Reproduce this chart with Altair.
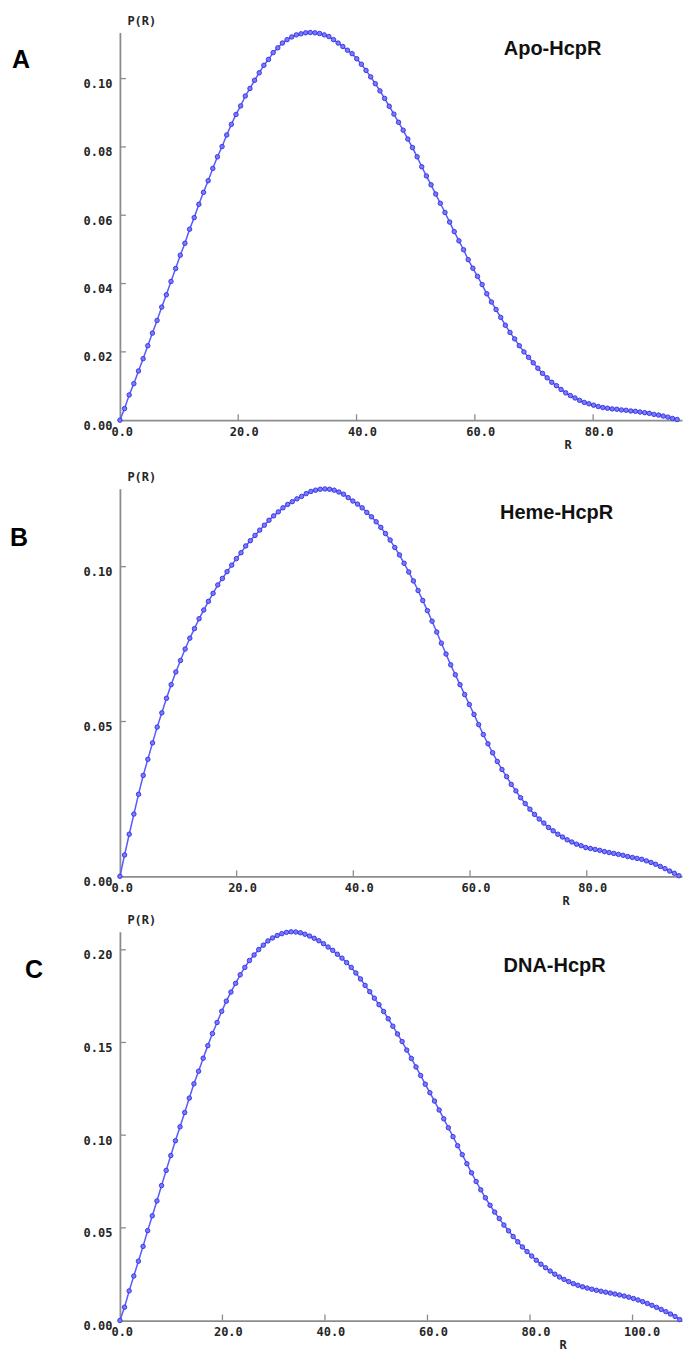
import altair as alt
import pandas as pd
import numpy as np

# ---------------- data ----------------
# Panel A: Apo-HcpR, uniform R grid 0 .. 94.2
R_A_END = 94.2
P_A = [0, 0.0034, 0.0074, 0.0107, 0.0144, 0.018, 0.0218, 0.0255, 0.0292, 0.0331,
       0.0367, 0.0406, 0.0444, 0.0483, 0.0518, 0.0559, 0.0593, 0.0632, 0.0667, 0.0701,
       0.0737, 0.0771, 0.0801, 0.0835, 0.0866, 0.0895, 0.092, 0.0949, 0.0971, 0.0995,
       0.1017, 0.1039, 0.1056, 0.1076, 0.109, 0.1104, 0.1114, 0.1122, 0.1128, 0.1131,
       0.1134, 0.1135, 0.1134, 0.1132, 0.1128, 0.1123, 0.1114, 0.1104, 0.1094, 0.1083,
       0.1073, 0.1058, 0.1042, 0.1024, 0.1005, 0.0985, 0.0964, 0.0942, 0.0919, 0.0896,
       0.0872, 0.0849, 0.0823, 0.0798, 0.0771, 0.0742, 0.0715, 0.0689, 0.0662, 0.0635,
       0.0608, 0.058, 0.0552, 0.0525, 0.0499, 0.047, 0.0445, 0.0421, 0.0397, 0.037,
       0.0346, 0.0324, 0.0301, 0.0278, 0.0257, 0.0238, 0.0218, 0.02, 0.0184, 0.0168,
       0.0152, 0.0137, 0.0124, 0.0111, 0.0101, 0.009, 0.008, 0.0072, 0.0065, 0.0058,
       0.0052, 0.0048, 0.0044, 0.004, 0.0037, 0.0035, 0.0033, 0.0032, 0.003, 0.0029,
       0.0027, 0.0026, 0.0024, 0.0022, 0.002, 0.0017, 0.0015, 0.0012, 0.0009, 0.0005,
       0.0002]

# Panel B: Heme-HcpR, uniform R grid 0 .. 95.8
R_B_END = 95.8
P_B = [0, 0.0069, 0.0136, 0.0201, 0.0265, 0.0326, 0.0378, 0.0431, 0.0482, 0.0528,
       0.0575, 0.0619, 0.066, 0.0697, 0.0734, 0.0769, 0.08, 0.0832, 0.086, 0.0888,
       0.0914, 0.0941, 0.0962, 0.0984, 0.1005, 0.1026, 0.1045, 0.1067, 0.1084, 0.1101,
       0.1118, 0.1134, 0.115, 0.1164, 0.1177, 0.119, 0.1201, 0.121, 0.1219, 0.1227,
       0.1236, 0.1243, 0.1247, 0.125, 0.1251, 0.125, 0.1247, 0.1241, 0.1234, 0.1223,
       0.1212, 0.1202, 0.119, 0.1175, 0.1161, 0.1145, 0.1127, 0.1107, 0.1086, 0.1062,
       0.1038, 0.1011, 0.0983, 0.0954, 0.0923, 0.0891, 0.0858, 0.0824, 0.0789, 0.0753,
       0.0718, 0.0683, 0.0651, 0.0619, 0.0587, 0.0555, 0.0523, 0.049, 0.0458, 0.0428,
       0.0399, 0.0371, 0.0345, 0.0322, 0.0297, 0.0276, 0.0254, 0.0235, 0.0217, 0.02,
       0.0185, 0.0172, 0.0158, 0.0147, 0.0136, 0.0127, 0.0118, 0.0111, 0.0104, 0.0099,
       0.0093, 0.009, 0.0087, 0.0084, 0.008, 0.0077, 0.0074, 0.0071, 0.0068, 0.0064,
       0.0061, 0.0058, 0.0055, 0.005, 0.0045, 0.0039, 0.0032, 0.0025, 0.0017, 0.001,
       0.0002]

# Panel C: DNA-HcpR, uniform R grid 0 .. 109.2
R_C_END = 109.2
P_C = [0, 0.0072, 0.016, 0.024, 0.032, 0.040, 0.0485, 0.0565, 0.0645, 0.0728,
       0.081, 0.089, 0.097, 0.1045, 0.1122, 0.12, 0.1277, 0.1345, 0.1415, 0.1483,
       0.1548, 0.1608, 0.1668, 0.1723, 0.1772, 0.1819, 0.1865, 0.1905, 0.1942, 0.1972,
       0.2001, 0.2025, 0.2048, 0.2064, 0.2077, 0.2087, 0.2094, 0.2097, 0.2096, 0.2092,
       0.2084, 0.2074, 0.2062, 0.2049, 0.2033, 0.2015, 0.1997, 0.1976, 0.1955, 0.1931,
       0.1905, 0.1875, 0.1843, 0.1808, 0.1774, 0.1739, 0.1704, 0.1667, 0.1628, 0.1588,
       0.1546, 0.1505, 0.1459, 0.1414, 0.1368, 0.1322, 0.1275, 0.1229, 0.1184, 0.1136,
       0.1088, 0.1040, 0.0992, 0.0943, 0.0895, 0.0846, 0.0797, 0.0750, 0.0705, 0.0662,
       0.0622, 0.0585, 0.055, 0.0515, 0.0484, 0.0453, 0.0425, 0.0397, 0.0372, 0.0348,
       0.0325, 0.0304, 0.0285, 0.0267, 0.025, 0.0235, 0.0222, 0.021, 0.0199, 0.019,
       0.0182, 0.0175, 0.0169, 0.0163, 0.0158, 0.0153, 0.0148, 0.0143, 0.0138, 0.0132,
       0.0126, 0.0119, 0.0111, 0.0102, 0.0092, 0.0082, 0.0071, 0.006, 0.0048, 0.0035,
       0.0022, 0.0005]

NAMES = ["Apo-HcpR", "Heme-HcpR", "DNA-HcpR"]
LETTERS = ["A", "B", "C"]
X_TICKS_AB = [20, 40, 60, 80]
X_TICKS_C = [20, 40, 60, 80, 100]
Y_TICKS_A = [0.02, 0.04, 0.06, 0.08, 0.10]
Y_TICKS_B = [0.05, 0.10]
Y_TICKS_C = [0.05, 0.10, 0.15, 0.20]

# ---------------- styling ----------------
MONO = "DejaVu Sans Mono"
SANS = "Liberation Sans"
AXIS_GRAY = "#8c8c8c"
LABEL_COL = "#262626"
LINE_COL = "#5a5aff"
W = 562.5


def panel(R, P, xmax, ymax, xticks, yticks, name, letter, h,
          letter_xy, name_xy, rtitle_x, anchor=False):
    df = pd.DataFrame({"R": R, "P": P})
    xs = alt.Scale(domain=[0, xmax], nice=False, zero=False)
    ys = alt.Scale(domain=[0, ymax], nice=False, zero=False)
    xaxis = alt.Axis(values=[0] + xticks, format=".1f", title="R", grid=False,
                     tickSize=0, domainColor=AXIS_GRAY, domainWidth=1.8,
                     labelFont=MONO, labelFontSize=12, labelFontWeight="bold",
                     labelColor=LABEL_COL, labelAlign="left", labelOffset=-9,
                     labelPadding=6, labelBaseline="top", labelFlush=False,
                     labelOverlap=False,
                     titleFont=MONO, titleFontSize=12, titleFontWeight="bold",
                     titleColor=LABEL_COL, titleAngle=0, titleAlign="center",
                     titleBaseline="middle", titleX=rtitle_x, titleY=24)
    yaxis = alt.Axis(values=[0] + yticks, format=".2f", title="P(R)", grid=False,
                     tickSize=0, domainColor=AXIS_GRAY, domainWidth=1.8,
                     labelFont=MONO, labelFontSize=12, labelFontWeight="bold",
                     labelColor=LABEL_COL, labelPadding=8, labelOffset=5,
                     labelFlush=False, labelOverlap=False,
                     titleFont=MONO, titleFontSize=12, titleFontWeight="bold",
                     titleColor=LABEL_COL, titleAngle=0, titleAlign="left",
                     titleBaseline="middle", titleX=7, titleY=-12)
    X = alt.X("R:Q", scale=xs, axis=xaxis, title="R")
    Y = alt.Y("P:Q", scale=ys, axis=yaxis, title="P(R)")
    base = alt.Chart(df)
    line = base.mark_line(color=LINE_COL, strokeWidth=1.5).encode(x=X, y=Y)
    pts = base.mark_point(shape="circle", filled=True, size=20, fill="#7a7aff",
                          stroke="#3030e0", strokeWidth=0.9, opacity=1).encode(
        x=X, y=Y)
    ytk = alt.Chart(pd.DataFrame({"P": yticks})).mark_rule(
        color=AXIS_GRAY, strokeWidth=1.3).encode(
        y=Y, x=alt.value(0), x2=alt.value(6))
    xtk = alt.Chart(pd.DataFrame({"R": xticks})).mark_rule(
        color=AXIS_GRAY, strokeWidth=1.3).encode(
        x=X, y=alt.value(h), y2=alt.value(h - 6))
    one = pd.DataFrame({"a": [0]})
    let = alt.Chart(one).mark_text(text=letter, font=SANS, fontWeight="bold",
                                   fontSize=25, color="black", align="left",
                                   baseline="alphabetic").encode(
        x=alt.value(letter_xy[0]), y=alt.value(letter_xy[1]))
    nm = alt.Chart(one).mark_text(text=name, font=SANS, fontWeight="bold",
                                  fontSize=20, color="#111", align="center",
                                  baseline="alphabetic").encode(
        x=alt.value(name_xy[0]), y=alt.value(name_xy[1]))
    layers = [line, pts, ytk, xtk, let, nm]
    if anchor:
        anc = alt.Chart(one).mark_rule(opacity=0, strokeWidth=0).encode(
            x=alt.value(-120), y=alt.value(-32), y2=alt.value(-31))
        layers.append(anc)
    return alt.layer(*layers).properties(width=W, height=h)


RA = np.linspace(0, R_A_END, len(P_A))
RB = np.linspace(0, R_B_END, len(P_B))
RC = np.linspace(0, R_C_END, len(P_C))

pa = panel(RA, P_A, W / 5.92, 0.1135, X_TICKS_AB, Y_TICKS_A, NAMES[0], LETTERS[0],
           388, (-108, 36), (433, 23), 448, anchor=True)
pb = panel(RB, P_B, W / 5.84, 0.1252, X_TICKS_AB, Y_TICKS_B, NAMES[1], LETTERS[1],
           388, (-110, 57), (437, 30), 446)
pc = panel(RC, P_C, W / 5.13, 0.2097, X_TICKS_C, Y_TICKS_C, NAMES[2], LETTERS[2],
           389, (-95, 46), (435, 40), 443)

inner = alt.vconcat(pb, pc, spacing=55.5, bounds="flush")
chart = alt.vconcat(pa, inner, spacing=68.5, bounds="flush").properties(
    padding=0, background="white"
).configure_view(strokeWidth=0)

chart.save("out.html", embed_options={"renderer": "svg", "actions": False})
